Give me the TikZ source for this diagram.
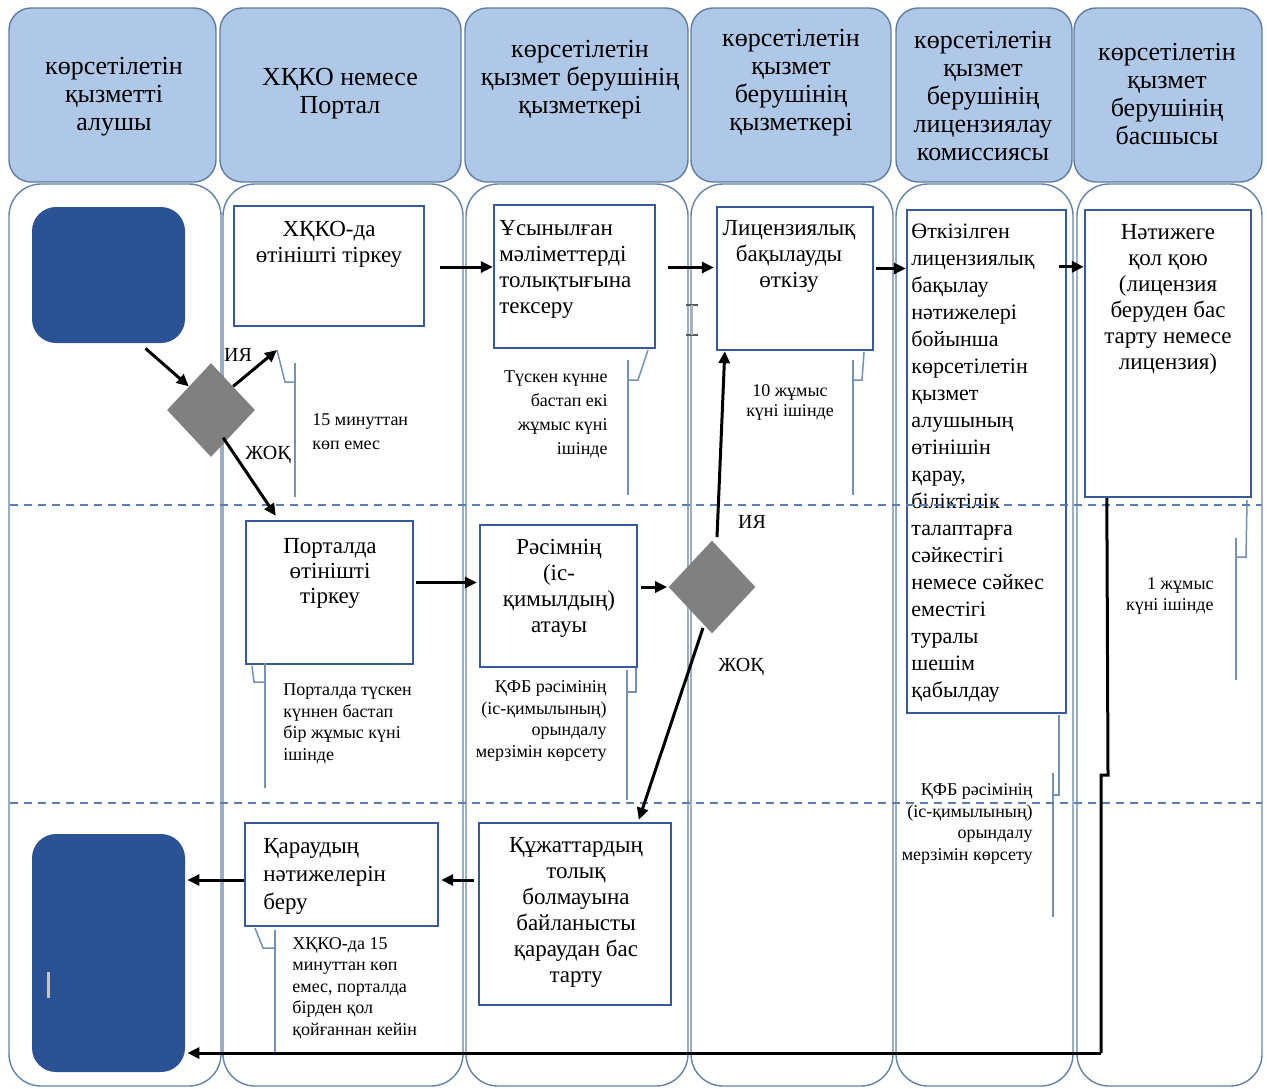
\documentclass[tikz,border=0pt]{standalone}
\usepackage{fontspec}
\setmainfont{Liberation Serif}
\usetikzlibrary{shapes.geometric,arrows.meta,calc,fit}
\definecolor{hdrfill}{RGB}{176,200,231}
\definecolor{hdrline}{RGB}{95,125,160}
\definecolor{laneline}{RGB}{100,130,170}
\definecolor{boxline}{RGB}{55,90,155}
\definecolor{darkblue}{RGB}{44,82,150}
\definecolor{dashline}{RGB}{90,125,180}
\definecolor{callline}{RGB}{115,145,185}
\definecolor{diagray}{RGB}{128,128,128}
\begin{document}
\begin{tikzpicture}[x=0.5pt,y=-0.5pt,
  hdrbox/.style={draw=hdrline, fill=hdrfill, rounded corners=11pt, line width=0.7pt, inner sep=0pt},
  lane/.style={draw=laneline, rounded corners=16pt, line width=0.7pt},
  procbox/.style={draw=boxline, line width=1.2pt, inner sep=0pt},
  termbox/.style={fill=darkblue, draw=none, rounded corners=12pt, inner sep=0pt},
  decision/.style={diamond, fill=diagray, draw=none, inner sep=0pt, minimum width=44pt, minimum height=47pt},
  htxt/.style={align=center, inner sep=0pt, font=\fontsize{13}{14}\selectfont},
  btxt/.style={inner sep=0pt, font=\fontsize{11.5}{13}\selectfont},
  ctxt/.style={inner sep=0pt, font=\fontsize{9}{10.8}\selectfont},
  lbl/.style={inner sep=0pt, font=\fontsize{10}{12}\selectfont},
  arr/.style={line width=1.5pt, -{Triangle[length=6pt,width=5.5pt]}},
  thick line/.style={line width=1.5pt},
  call/.style={draw=callline, line width=0.75pt},
  sep/.style={draw=dashline, line width=0.7pt, dash pattern=on 4pt off 3pt}]

\useasboundingbox (0,0) rectangle (1267,1088);

% swimlane bodies
\draw[lane] (9,184) rectangle (221,1086);
\draw[lane] (223,184) rectangle (463,1086);
\draw[lane] (466,184) rectangle (688,1086);
\draw[lane] (691,184) rectangle (893,1086);
\draw[lane] (896,184) rectangle (1073,1086);
\draw[lane] (1077,184) rectangle (1262,1086);

% headers
\node[hdrbox, fit={(9,8) (216,182)}] (h1) {};
\node[hdrbox, fit={(220,8) (461,182)}] (h2) {};
\node[hdrbox, fit={(465,8) (688,182)}] (h3) {};
\node[hdrbox, fit={(691,8) (891,182)}] (h4) {};
\node[hdrbox, fit={(896,8) (1072,182)}] (h5) {};
\node[hdrbox, fit={(1074,8) (1262,182)}] (h6) {};
\node[htxt] (t1) at (114,97) {көрсетілетін\\қызметті\\алушы};
\node[htxt] (t2) at (340,94) {ХҚКО немесе\\Портал};
\node[htxt] (t3) at (580,80) {көрсетілетін\\қызмет берушінің\\қызметкері};
\node[htxt] (t4) at (791,83) {көрсетілетін\\қызмет\\берушінің\\қызметкері};
\node[htxt] (t5) at (983,96) {көрсетілетін\\қызмет\\берушінің\\лицензиялау\\комиссиясы};
\node[htxt] (t6) at (1167,94) {көрсетілетін\\қызмет\\берушінің\\басшысы};

% terminals and decisions
\node[termbox, fit={(32,207) (185,343)}] (st) {};
\node[termbox, fit={(32,834) (185,1072)}] (en) {};
\draw[line width=1.5pt, draw=gray!45] (48,972) -- (48,998);
\node[decision] (d1) at (211,410) {};
\node[decision, minimum width=43.5pt, minimum height=46.5pt] (d2) at (712,587) {};

% process boxes
\node[procbox, fit={(234,206) (424,326)}] (b1) {};
\node[procbox, fit={(494,205) (655,348)}] (b2) {};
\node[procbox, fit={(717,207) (873,350)}] (b3) {};
\node[procbox, fit={(907,210) (1066,713)}] (b4) {};
\node[procbox, fit={(1085,210) (1251,497)}] (b5) {};
\node[procbox, fit={(246,521) (413,664)}] (b6) {};
\node[procbox, fit={(480,525) (637,667)}] (b7) {};
\node[procbox, fit={(479,823) (671,1005)}] (b8) {};
\node[procbox, fit={(245,823) (438,926)}] (b9) {};

% box texts
\node[btxt, align=center] (x1) at (329,244) {ХҚКО-да\\өтінішті тіркеу};
\node[btxt, align=left, anchor=west] (x2) at (499,269) {Ұсынылған\\мәліметтерді\\толықтығына\\тексеру};
\node[btxt, align=center] (x3) at (789,256) {Лицензиялық\\бақылауды\\өткізу};
\node[btxt, align=left, anchor=west, font=\fontsize{11}{13.5}\selectfont] (x4) at (911,463)
  {Өткізілген\\лицензиялық\\бақылау\\нәтижелері\\бойынша\\көрсетілетін\\қызмет\\алушының\\өтінішін\\қарау,\\біліктілік\\талаптарға\\сәйкестігі\\немесе сәйкес\\еместігі\\туралы\\шешім\\қабылдау};
\node[btxt, align=center] (x5) at (1168,299) {Нәтижеге\\қол қою\\(лицензия\\беруден бас\\тарту немесе\\лицензия)};
\node[btxt, align=center, font=\fontsize{11.5}{12.5}\selectfont] (x6) at (330,573) {Порталда\\өтінішті\\тіркеу};
\node[btxt, align=center] (x7) at (559,588) {Рәсімнің\\(іс-\\қимылдың)\\атауы};
\node[btxt, align=center] (x8) at (576,912) {Құжаттардың\\толық\\болмауына\\байланысты\\қараудан бас\\тарту};
\node[btxt, align=left, anchor=west, font=\fontsize{11.5}{14}\selectfont] (x9) at (263,876) {Қараудың\\нәтижелерін\\беру};

% callout texts
\node[ctxt, align=left, anchor=west, font=\fontsize{9}{12}\selectfont] (c1) at (312,432) {15 минуттан\\көп емес};
\node[ctxt, align=right, anchor=east, font=\fontsize{9}{12}\selectfont] (c2) at (608,414) {Түскен күнне\\бастап екі\\жұмыс күні\\ішінде};
\node[ctxt, align=center, font=\fontsize{9}{10}\selectfont] (c3) at (790,402) {10 жұмыс\\күні ішінде};
\node[ctxt, align=left, anchor=west] (c4) at (283,724) {Порталда түскен\\күннен бастап\\бір жұмыс күні\\ішінде};
\node[ctxt, align=right, anchor=east] (c5) at (607,721) {ҚФБ рәсімінің\\(іс-қимылының)\\орындалу\\мерзімін көрсету};
\node[ctxt, align=right, anchor=east] (c6) at (1214,596) {1 жұмыс\\күні ішінде};
\node[ctxt, align=right, anchor=east] (c7) at (1033,824) {ҚФБ рәсімінің\\(іс-қимылының)\\орындалу\\мерзімін көрсету};
\node[ctxt, align=left, anchor=west] (c8) at (292,988) {ХҚКО-да 15\\минуттан көп\\емес, порталда\\бірден қол\\қойғаннан кейін};

% branch labels
\node[lbl] (l1) at (238,355) {ИЯ};
\node[lbl] (l2) at (268,455) {ЖОҚ};
\node[lbl] (l3) at (752,522) {ИЯ};
\node[lbl] (l4) at (741,667) {ЖОҚ};

% callout brackets
\coordinate (y1) at (277,350);
\draw[call] (y1) -- (285,382) -- (295,382);
\draw[call] (295,363) -- (295,497);
\draw[call] (628,360) -- (628,495);
\draw[call] (628,380) -- (638,380) -- (648,350);
\draw[call] (853,360) -- (853,495);
\draw[call] (853,380) -- (862,380) -- (864,352);
\draw[call] (265,663) -- (265,788);
\draw[call] (252,666) -- (254,682) -- (265,682);
\draw[call] (627,670) -- (627,800);
\draw[call] (627,692) -- (636,692) -- (636,668);
\draw[call] (1236,538) -- (1236,680);
\draw[call] (1236,557) -- (1246,557) -- (1247,500);
\draw[call] (1053,773) -- (1053,917);
\draw[call] (1053,795) -- (1059,795) -- (1059,715);
\draw[call] (275,930) -- (275,1052);
\draw[call] (255,928) -- (263,948) -- (275,948);

% ticks at lane border
\draw[draw=gray!70!black, line width=0.6pt] (686,305) -- (698,305) (686,335) -- (698,335);
\draw[draw=gray!60, line width=0.8pt] (692,305) -- (692,335);

% lane separators
\draw[sep] (10,505) -- (1262,505);
\draw[sep] (10,803) -- (1262,803);

% connectors
\draw[arr] ($(st.south)+(37,5)$) -- (d1.north west);
\draw[arr] (d1.north east) -- (y1);
\draw[arr] ($(d1.south east)+(-10,4)$) -- ($(b6.north west)+(31,-4)$);
\coordinate (a1) at ($(b1.east)+(15,1)$);
\draw[arr] (a1) -- (a1 -| b2.west);
\coordinate (a2) at ($(b2.east)+(12,-9)$);
\draw[arr] (a2) -- ($(a2 -| b3.west)+(-2,0)$);
\coordinate (a3) at ($(b3.east)+(2,-10)$);
\draw[arr] (a3) -- (a3 -| b4.west);
\coordinate (a4) at ($(b4.north east)+(-8,58)$);
\draw[arr] (a4) -- (a4 -| b5.west);
\coordinate (a5) at ($(b6.east)+(2,-10)$);
\draw[arr] (a5) -- ($(a5 -| b7.west)+(-2,0)$);
\coordinate (a6) at ($(b7.east)+(3,-9)$);
\draw[arr] (a6) -- ($(a6 -| d2.west)+(-1,0)$);
\draw[arr] ($(d2.north)+(5,-3)$) -- ($(b3.south west)+(9,0)$);
\draw[arr] ($(d2.south)+(-9,-6)$) -- ($(b8.north west)+(161,-2)$);
\coordinate (a7) at ($(b8.west)+(-4,-34)$);
\draw[arr] (a7) -- ($(a7 -| b9.east)+(2,0)$);
\coordinate (a8) at ($(b9.west)+(0,5.5)$);
\draw[arr] (a8) -- ($(a8 -| en.east)+(2,0)$);
\coordinate (p1) at ($(b5.south west)+(23,0)$);
\coordinate (p2) at (1108,775);
\coordinate (p3) at (1101,775);
\coordinate (p4) at (1101,1053);
\draw[thick line] (p1) -- (p2) -- (p3) -- (p4);
\draw[arr] (p4) -- ($(p4 -| en.east)+(2,0)$);
\end{tikzpicture}
\end{document}
